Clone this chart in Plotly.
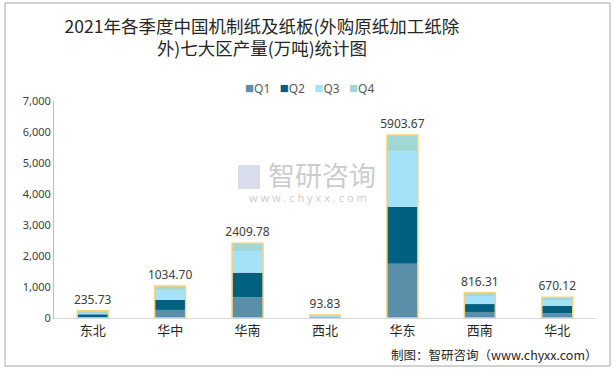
import plotly.graph_objects as go

regions = ["东北", "华中", "华南", "西北", "华东", "西南", "华北"]
q1 = [62, 260, 670, 20, 1750, 195, 160]
q2 = [58, 320, 792, 25, 1830, 255, 227]
q3 = [70, 300, 700, 25, 1785, 260, 193]
totals = [235.73, 1034.70, 2409.78, 93.83, 5903.67, 816.31, 670.12]
q4 = [round(t - a - b - c, 2) for t, a, b, c in zip(totals, q1, q2, q3)]

series = [("Q1", q1, "#5B8FA9"), ("Q2", q2, "#00607F"),
          ("Q3", q3, "#A6E1FA"), ("Q4", q4, "#A1D8D6")]

fig = go.Figure()
base = [0] * len(regions)
for name, vals, col in series:
    fig.add_trace(go.Bar(x=regions, y=vals, base=list(base), name=name,
                         marker=dict(color=col, line=dict(width=0)),
                         width=0.4, hoverinfo="y", showlegend=False))
    base = [b + v for b, v in zip(base, vals)]

fig.add_trace(go.Bar(x=regions, y=totals, base=[0] * len(regions), showlegend=False,
                     marker=dict(color="rgba(0,0,0,0)", line=dict(color="#F7D37A", width=1.5)),
                     width=0.4, text=[f"{t:.2f}" for t in totals], textposition="outside",
                     constraintext="none",
                     textfont=dict(size=12, color="#404040", family="Noto Sans, Arial"),
                     cliponaxis=False))

# custom compact legend
legend_html = "&nbsp;&nbsp;&nbsp;".join(
    f'<span style="color:{col};font-size:15px">■</span>{name}' for name, _, col in series)

fig.update_layout(
    width=615, height=370, barmode="overlay",
    margin=dict(l=54, r=19, t=101, b=52, autoexpand=False),
    paper_bgcolor="white", plot_bgcolor="white",
    font=dict(family="Noto Sans CJK SC", color="#404040"),
    title=dict(text="2021年各季度中国机制纸及纸板(外购原纸加工纸除<br>外)七大区产量(万吨)统计图",
               x=262 / 615, xanchor="center", y=0.912, yanchor="top",
               font=dict(size=17.5, color="#262626", family="Noto Sans CJK SC")),
    xaxis=dict(showline=True, linecolor="#D9D9D9", linewidth=1, ticks="",
               tickfont=dict(size=13, color="#262626", family="Noto Sans CJK SC")),
    yaxis=dict(range=[0, 7000], dtick=1000, tickformat=",", showgrid=False,
               showline=True, linecolor="#BFBFBF", linewidth=1, ticks="", zeroline=False,
               tickfont=dict(size=11, color="#404040", family="Noto Sans, Arial")),
)

fig.add_annotation(text=legend_html, xref="paper", yref="paper",
                   x=(243 - 54) / 542, xanchor="left", y=(318 - 87) / 217, yanchor="middle",
                   showarrow=False,
                   font=dict(size=12, color="#595959", family="Noto Sans, Arial"))

# outer frame
fig.add_shape(type="rect", xref="paper", yref="paper",
              x0=(5 - 54) / 542, x1=(610 - 54) / 542,
              y0=(318 - 366) / 217, y1=(318 - 3) / 217,
              line=dict(color="#A6A6A6", width=1), layer="below")

# watermark
fig.add_annotation(text="智研咨询", xref="paper", yref="paper",
                   x=(322 - 54) / 542, y=(318 - 174) / 217, showarrow=False,
                   font=dict(size=27, color="rgba(160,160,160,0.55)", family="Noto Sans CJK SC"))
fig.add_annotation(text="w w w . c h y x x . c o m", xref="paper", yref="paper",
                   x=(308 - 54) / 542, y=(318 - 197) / 217, showarrow=False,
                   font=dict(size=11, color="rgba(160,160,160,0.55)", family="Noto Sans"))
fig.add_shape(type="rect", xref="paper", yref="paper",
              x0=(238 - 54) / 542, x1=(260 - 54) / 542,
              y0=(318 - 189) / 217, y1=(318 - 165) / 217,
              line=dict(width=0), fillcolor="rgba(170,180,210,0.45)")

# source
fig.add_annotation(text="制图：智研咨询（www.chyxx.com）", xref="paper", yref="paper",
                   x=(600 - 54) / 542, xanchor="right", y=(318 - 354) / 217, yanchor="middle",
                   showarrow=False,
                   font=dict(size=12.5, color="#262626", family="Noto Sans CJK SC"))

fig.write_html("out.html", config={"displayModeBar": False},
               post_script="document.body.style.margin='0';")
